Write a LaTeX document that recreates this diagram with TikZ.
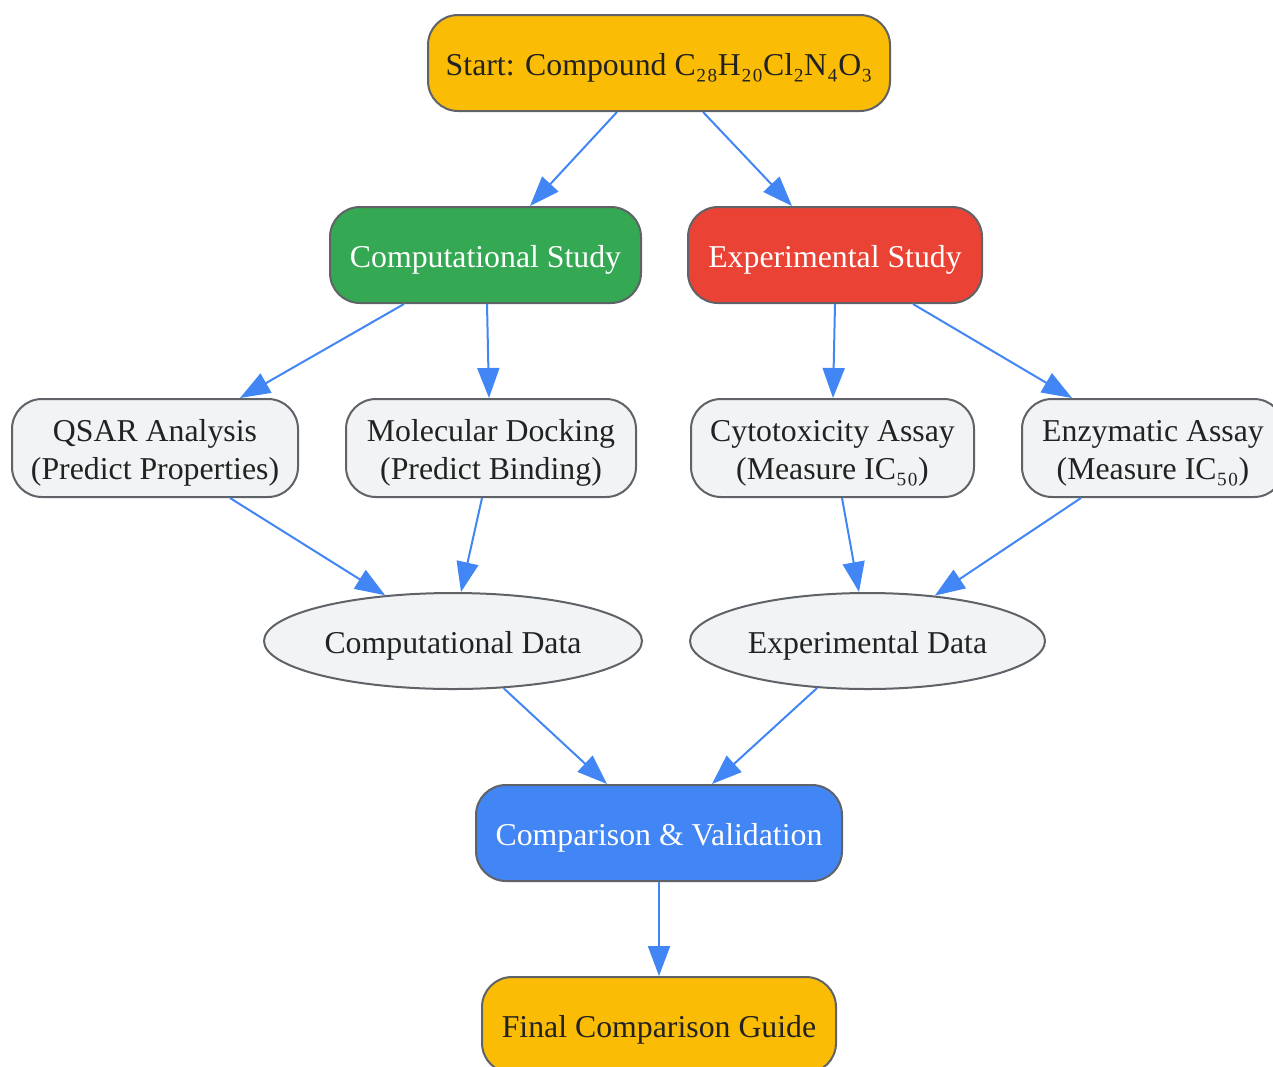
\documentclass[tikz,border=0pt]{standalone}
\usepackage{fontspec}
\setmainfont{Liberation Serif}
\usetikzlibrary{arrows.meta,shapes.geometric}
\definecolor{cyel}{HTML}{FABC05}
\definecolor{cgreen}{HTML}{34A853}
\definecolor{cred}{HTML}{EA4335}
\definecolor{cblue}{HTML}{4285F4}
\definecolor{cgray}{HTML}{F1F3F4}
\definecolor{cstroke}{HTML}{5F6368}
\definecolor{ctext}{HTML}{222222}
\newcommand\lbl[1]{\raisebox{0pt}[\dimexpr\height+10pt\relax]{\begin{tabular}{@{}c@{}}#1\end{tabular}}}
\tikzset{
  base/.style={draw=cstroke, line width=2pt, text=ctext, inner sep=0pt,
    font=\fontsize{31.8}{38}\selectfont},
  rbox/.style={base, rounded corners=30pt, minimum height=96pt},
  gbox/.style={base, rounded corners=30pt, fill=cgray, minimum height=98pt},
  ell/.style={base, ellipse, fill=cgray, minimum height=96pt},
  conn/.style={draw=cblue, line width=2pt, -{Triangle[length=30pt,width=22pt]}},
}
\begin{document}
\begin{tikzpicture}[x=1pt,y=-1pt]
\useasboundingbox (0,0) rectangle (1273,1066);
\node[rbox, fill=cyel, minimum width=462pt] (start) at (659,63) {\lbl{Start: Compound C₂₈H₂₀Cl₂N₄O₃}};
\node[rbox, fill=cgreen, text=white, minimum width=311pt] (comp) at (485.5,255) {\lbl{Computational Study}};
\node[rbox, fill=cred, text=white, minimum width=294pt] (exp) at (835,255) {\lbl{Experimental Study}};
\node[gbox, minimum width=286pt] (qsar) at (155,448) {\lbl{QSAR Analysis\\(Predict Properties)}};
\node[gbox, minimum width=290pt] (dock) at (491,448) {\lbl{Molecular Docking\\(Predict Binding)}};
\node[gbox, minimum width=283pt] (cyto) at (832.5,448) {\lbl{Cytotoxicity Assay\\(Measure IC₅₀)}};
\node[gbox, minimum width=262pt] (enz) at (1153,448) {\lbl{Enzymatic Assay\\(Measure IC₅₀)}};
\node[ell, minimum width=378pt] (cdata) at (453,641) {\lbl{Computational Data}};
\node[ell, minimum width=355pt] (edata) at (867.5,641) {\lbl{Experimental Data}};
\node[rbox, fill=cblue, text=white, minimum width=366pt] (cmpv) at (659,833) {\lbl{Comparison \& Validation}};
\node[rbox, fill=cyel, minimum width=354pt] (final) at (659,1025) {\lbl{Final Comparison Guide}};

\draw[conn] ([xshift=-42pt]start.south) -- ([xshift=44.5pt]comp.north);
\draw[conn] ([xshift=44pt]start.south) -- ([xshift=-43pt]exp.north);
\draw[conn] ([xshift=-81.5pt]comp.south) -- ([xshift=85pt]qsar.north);
\draw[conn] ([xshift=1.5pt]comp.south) -- ([xshift=-2pt]dock.north);
\draw[conn] (exp.south) -- ([xshift=0.5pt]cyto.north);
\draw[conn] ([xshift=78pt]exp.south) -- ([xshift=-81pt]enz.north);
\draw[conn] ([xshift=75pt]qsar.south) -- (cdata.146);
\draw[conn] ([xshift=-9pt]dock.south) -- ([xshift=8pt]cdata.north);
\draw[conn] ([xshift=9.5pt]cyto.south) -- ([xshift=-8.5pt]edata.north);
\draw[conn] ([xshift=-72pt]enz.south) -- (edata.34);
\draw[conn] (cdata.-43) -- ([xshift=-52pt]cmpv.north);
\draw[conn] (edata.223) -- ([xshift=53pt]cmpv.north);
\draw[conn] (cmpv.south) -- (final.north);
\end{tikzpicture}
\end{document}
